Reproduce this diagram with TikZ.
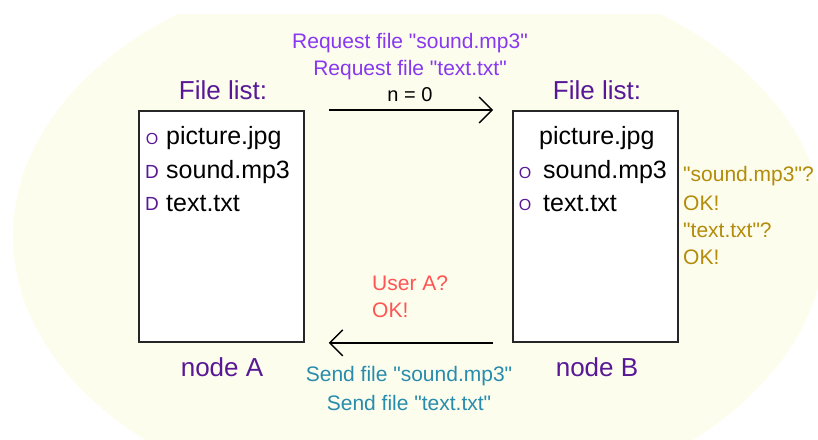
\documentclass[tikz,border=0pt]{standalone}
\usepackage{fontspec}
\setmainfont{Liberation Sans}
\usetikzlibrary{arrows.meta,calc}

\definecolor{bgyellow}{RGB}{253,253,238}
\definecolor{listpurple}{RGB}{88,24,150}
\definecolor{reqviolet}{RGB}{136,56,240}
\definecolor{userred}{RGB}{255,84,84}
\definecolor{sendteal}{RGB}{40,140,172}
\definecolor{ackolive}{RGB}{178,140,10}

% straight double quote
\newcommand{\dq}{\textquotedbl}

\tikzset{
  filebox/.style={draw=black!85, line width=1.8pt, fill=white, anchor=north west,
    minimum width=165pt, minimum height=231pt, inner sep=0pt},
  title/.style={text=listpurple, font=\fontsize{26}{30}\selectfont, inner sep=0pt},
  entry/.style={anchor=west, font=\fontsize{25}{30}\selectfont, inner sep=0pt},
  flag/.style={anchor=center, text=listpurple, inner sep=0pt},
  flagO/.style={flag, font=\fontsize{16}{18}\selectfont},
  flagD/.style={flag, font=\fontsize{19}{21}\selectfont},
  msg/.style={line width=1.4pt, -{Straight Barb[length=13pt,width=26pt,line width=1.4pt]}},
  say/.style={font=\fontsize{21}{25}\selectfont, inner sep=0pt},
}

\begin{document}
\begin{tikzpicture}[x=1pt,y=-1pt]
  \useasboundingbox (0,0) rectangle (818,439);
  \fill[white] (0,0) rectangle (818,439);

  % pale backdrop, cut flat along the top
  \begin{scope}
    \clip (0,14) rectangle (818,439);
    \fill[bgyellow] (419,236) ellipse [x radius=406, y radius=276];
  \end{scope}

  % the two peers and their file lists
  \node[filebox] (boxA) at (138,110) {};
  \node[filebox] (boxB) at (512,110) {};

  \node[title] (titleA) at (223,90) {File list:};
  \node[title] (titleB) at (597,90) {File list:};

  \node[title] (nameA) at (222,367) {node A};
  \node[title] (nameB) at (597,367) {node B};

  % entries of node A
  \node[flagO] (mA1) at (152,139) {O};
  \node[flagD] (mA2) at (152,172) {D};
  \node[flagD] (mA3) at (152,204) {D};
  \node[entry] (eA1) at (166,138) {picture.jpg};
  \node[entry] (eA2) at (166,172) {sound.mp3};
  \node[entry] (eA3) at (166,204) {text.txt};

  % entries of node B
  \node[flagO] (mB2) at (525,173) {O};
  \node[flagO] (mB3) at (525,205) {O};
  \node[entry] (eB1) at (539,138) {picture.jpg};
  \node[entry] (eB2) at (543,172) {sound.mp3};
  \node[entry] (eB3) at (543,204) {text.txt};

  % request from A to B
  \draw[msg] ([xshift=24pt]boxA.north east) -- ([xshift=-19pt]boxB.north west);
  \node[say, text=black, font=\fontsize{20}{24}\selectfont] (count) at (410,95) {n = 0};
  \node[say, text=reqviolet] (req1) at (410,43) {Request file \dq sound.mp3\dq};
  \node[say, text=reqviolet] (req2) at (410,70) {Request file \dq text.txt\dq};

  % answer from B to A
  \draw[msg] ([xshift=-19pt]boxB.south west) -- ([xshift=24pt]boxA.south east);
  \node[say, text=sendteal] (send1) at (409,376) {Send file \dq sound.mp3\dq};
  \node[say, text=sendteal] (send2) at (409,403) {Send file \dq text.txt\dq};

  % check of the requesting user
  \node[say, text=userred, anchor=west] (ask) at (372,283) {User A?};
  \node[say, text=userred, anchor=west] (askok) at (372,310) {OK!};

  % check of each requested file
  \node[say, text=ackolive, anchor=west] (q1) at (683,176) {\dq sound.mp3\dq?};
  \node[say, text=ackolive, anchor=west] (a1) at (683,203) {OK!};
  \node[say, text=ackolive, anchor=west] (q2) at (683,230) {\dq text.txt\dq?};
  \node[say, text=ackolive, anchor=west] (a2) at (683,257) {OK!};
\end{tikzpicture}
\end{document}
